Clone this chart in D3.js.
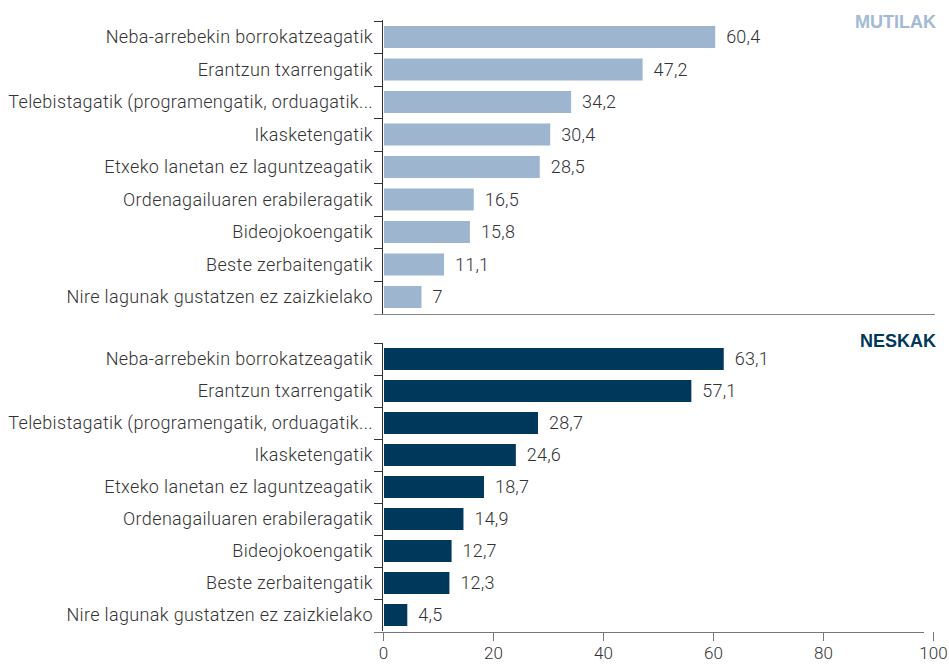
<!DOCTYPE html>
<meta charset="utf-8">
<style>
    body { margin: 0; background: #fff; }
    text {
        font-family: "Roboto", "Helvetica", "Arial", sans-serif;
        font-weight: 300;
        fill: #333;
    }
    .axis line { stroke: #777; shape-rendering: crispEdges; }
    .axis text { font-size: 17px; fill: #333; font-family: "Roboto", sans-serif; font-weight: 300; }
    .title { font-family: "Liberation Sans", "Arial", sans-serif; font-weight: 700; font-size: 18px; }
</style>
<svg width="949" height="668"></svg>
<script src="https://cdnjs.cloudflare.com/ajax/libs/d3/7.8.5/d3.min.js"></script>
<script>

    var categories = [
        "Neba-arrebekin borrokatzeagatik",
        "Erantzun txarrengatik",
        "Telebistagatik (programengatik, orduagatik...",
        "Ikasketengatik",
        "Etxeko lanetan ez laguntzeagatik",
        "Ordenagailuaren erabileragatik",
        "Bideojokoengatik",
        "Beste zerbaitengatik",
        "Nire lagunak gustatzen ez zaizkielako"
    ];
    var mutilak = [60.4, 47.2, 34.2, 30.4, 28.5, 16.5, 15.8, 11.1, 7];
    var neskak = [63.1, 57.1, 28.7, 24.6, 18.7, 14.9, 12.7, 12.3, 4.5];
    var xTicks = [0, 20, 40, 60, 80, 100];

    var svg = d3.select("svg");

    // axis scale (also used by the top panel)
    var x = d3.scaleLinear().domain([0, 100]).range([383, 933]);

    var panels = [
        { name: "MUTILAK", values: mutilak, color: "#9db5cf", titleColor: "#a3bad3",
          top: 20, bottom: 314, inner: 0.323, outer: 0.185, xEnd: 933, titleY: 28 },
        { name: "NESKAK", values: neskak, color: "#00385c", titleColor: "#00385c",
          top: 343, bottom: 631, inner: 0.3125, outer: 0.156, xEnd: 923, titleY: 347 }
    ];

    var fmt = function(v) { return String(v).replace(".", ","); };

    panels.forEach(function(p, pi) {
        var xs = d3.scaleLinear().domain([0, 100]).range([383, p.xEnd]);

        var y = d3.scaleBand()
                .domain(categories)
                .range([p.top, p.bottom])
                .paddingInner(p.inner)
                .paddingOuter(p.outer);

        var g = svg.append("g");

        // category labels
        g.selectAll(".lab")
                .data(categories)
                .enter().append("text")
                .attr("x", 373)
                .attr("y", function(d) { return y(d) + y.bandwidth() / 2; })
                .attr("dy", "0.36em")
                .attr("text-anchor", "end")
                .style("font-size", "18px")
                .style("letter-spacing", "0.35px")
                .text(function(d) { return d; });

        // bars
        g.selectAll("rect")
                .data(p.values)
                .enter().append("rect")
                .attr("x", xs(0) + 1)
                .attr("y", function(d, i) { return y(categories[i]); })
                .attr("width", function(d) { return xs(d) - xs(0) - 1; })
                .attr("height", y.bandwidth())
                .attr("fill", p.color);

        // value labels
        g.selectAll(".val")
                .data(p.values)
                .enter().append("text")
                .attr("x", function(d) { return xs(d) + 11; })
                .attr("y", function(d, i) { return y(categories[i]) + y.bandwidth() / 2; })
                .attr("dy", "0.36em")
                .style("font-size", "18px")
                .style("letter-spacing", "0.2px")
                .text(fmt);

        // vertical axis line + ticks between categories
        var gap = y.step() * p.inner / 2;
        g.append("line")
                .attr("x1", 382.5).attr("x2", 382.5)
                .attr("y1", p.top).attr("y2", p.bottom)
                .attr("stroke", "#333");
        g.selectAll(".tk")
                .data(categories)
                .enter().append("line")
                .attr("x1", 374).attr("x2", 383)
                .attr("y1", function(d) { return Math.round(y(d) - gap) + 0.5; })
                .attr("y2", function(d) { return Math.round(y(d) - gap) + 0.5; })
                .attr("stroke", "#333");

        // horizontal base line of the top panel
        if (pi === 0) {
            g.append("line")
                    .attr("x1", 374).attr("x2", 935)
                    .attr("y1", p.bottom + 0.5).attr("y2", p.bottom + 0.5)
                    .attr("stroke", "#888");
        }

        g.append("text")
                .attr("class", "title")
                .attr("x", 936)
                .attr("y", p.titleY)
                .attr("text-anchor", "end")
                .style("fill", p.titleColor)
                .text(p.name);
    });

    var xAxis = d3.axisBottom(x)
            .tickValues(xTicks)
            .tickSize(9)
            .tickPadding(6)
            .tickSizeOuter(0);

    var gx = svg.append("g")
            .attr("class", "axis")
            .attr("transform", "translate(0,632)")
            .call(xAxis);
    gx.select(".domain").remove();
    gx.append("line")
            .attr("x1", 374).attr("x2", 924)
            .attr("y1", 0.5).attr("y2", 0.5)
            .attr("stroke", "#888");

</script>
